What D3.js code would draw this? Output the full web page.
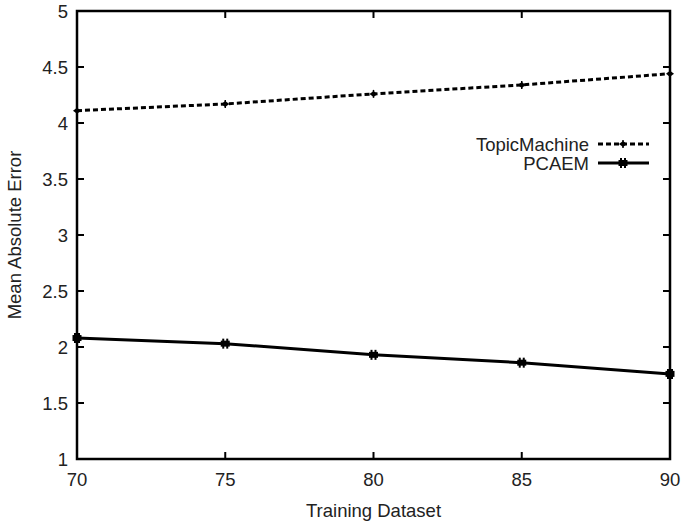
<!DOCTYPE html>
<html><head><meta charset="utf-8">
<script src="https://cdn.jsdelivr.net/npm/d3@7"></script>
<style>body{margin:0;background:#fff}svg{display:block}text{font-family:"Liberation Sans",Arial,sans-serif;fill:#222}</style>
</head><body><svg id="c" width="686" height="530"></svg>
<script>
const xValues = [70, 75, 80, 85, 90];
const topicMachine = [4.11, 4.17, 4.26, 4.34, 4.44];
const pcaem = [2.08, 2.03, 1.93, 1.86, 1.76];
const yTicks = [1, 1.5, 2, 2.5, 3, 3.5, 4, 4.5, 5];
const seriesNames = ["TopicMachine", "PCAEM"];

const svg = d3.select("#c");
const L = 77, R = 670, T = 11, B = 459;
const FS = 18.5;
const x = d3.scaleLinear().domain([70, 90]).range([L, R]);
const y = d3.scaleLinear().domain([1, 5]).range([B, T]);

const g = svg.append("g");
yTicks.forEach(v => {
  g.append("line").attr("x1", L).attr("x2", L + 7).attr("y1", y(v)).attr("y2", y(v)).attr("stroke", "#000").attr("stroke-width", 2);
  g.append("line").attr("x1", R).attr("x2", R - 7).attr("y1", y(v)).attr("y2", y(v)).attr("stroke", "#000").attr("stroke-width", 2);
  g.append("text").attr("x", L - 9).attr("y", y(v)).attr("dy", "0.36em").attr("text-anchor", "end").attr("font-size", FS).text(v);
});
xValues.forEach(v => {
  g.append("line").attr("x1", x(v)).attr("x2", x(v)).attr("y1", B).attr("y2", B - 7).attr("stroke", "#000").attr("stroke-width", 2);
  g.append("line").attr("x1", x(v)).attr("x2", x(v)).attr("y1", T).attr("y2", T + 7).attr("stroke", "#000").attr("stroke-width", 2);
  g.append("text").attr("x", x(v)).attr("y", B + 27).attr("text-anchor", "middle").attr("font-size", FS).text(v);
});

svg.append("rect").attr("x", L).attr("y", T).attr("width", R - L).attr("height", B - T)
  .attr("fill", "none").attr("stroke", "#000").attr("stroke-width", 2.5);

svg.append("text").attr("x", (L + R) / 2).attr("y", 517).attr("text-anchor", "middle").attr("font-size", FS).text("Training Dataset");
svg.append("text").attr("transform", `translate(21,${(T + B) / 2}) rotate(-90)`).attr("text-anchor", "middle").attr("font-size", FS).text("Mean Absolute Error");

const line = d3.line().x(d => x(d[0])).y(d => y(d[1]));
const tmData = xValues.map((v, i) => [v, topicMachine[i]]);
const pcData = xValues.map((v, i) => [v, pcaem[i]]);

svg.append("path").datum(tmData).attr("d", line).attr("fill", "none").attr("stroke", "#000")
  .attr("stroke-width", 3).attr("stroke-dasharray", "5,3");
svg.append("path").datum(pcData).attr("d", line).attr("fill", "none").attr("stroke", "#000")
  .attr("stroke-width", 3);

function markerTM(sel, cx, cy) {
  sel.append("path").attr("d", `M${cx-4},${cy}L${cx},${cy-3}L${cx+4},${cy}L${cx},${cy+3}Z`).attr("fill", "#000");
  sel.append("line").attr("x1", cx).attr("x2", cx).attr("y1", cy - 4).attr("y2", cy + 4).attr("stroke", "#000").attr("stroke-width", 1.5);
}
function markerPC(sel, cx, cy) {
  [-2, 2].forEach(o => {
    sel.append("line").attr("x1", cx + o).attr("x2", cx + o).attr("y1", cy - 5).attr("y2", cy + 5).attr("stroke", "#000").attr("stroke-width", 2);
  });
  sel.append("rect").attr("x", cx - 4.5).attr("y", cy - 3).attr("width", 9).attr("height", 6).attr("fill", "#000");
}
const mg = svg.append("g");
tmData.forEach(d => markerTM(mg, x(d[0]), y(d[1])));
pcData.forEach(d => markerPC(mg, x(d[0]), y(d[1])));

const legY = [144, 163];
seriesNames.forEach((n, i) => {
  svg.append("text").attr("x", 589).attr("y", legY[i]).attr("dy", "0.36em").attr("text-anchor", "end").attr("font-size", FS).text(n);
  const ln = svg.append("line").attr("x1", 598).attr("x2", 649).attr("y1", legY[i]).attr("y2", legY[i]).attr("stroke", "#000").attr("stroke-width", 3);
  if (i === 0) { ln.attr("stroke-dasharray", "5,3"); markerTM(svg, 623, legY[i]); }
  else markerPC(svg, 623, legY[i]);
});
</script></body></html>
